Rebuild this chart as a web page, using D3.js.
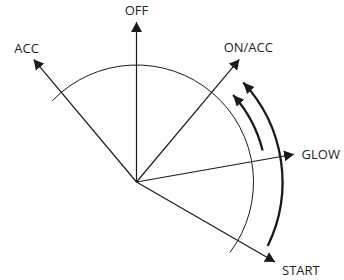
<!DOCTYPE html>
<html>
<head>
<meta charset="utf-8">
<script src="https://cdn.jsdelivr.net/npm/d3@7"></script>
<style>
  html, body { margin: 0; padding: 0; background: #fff; }
  svg { display: block; }
  .label { font-family: "Open Sans", sans-serif; font-size: 13px; fill: #222; }
</style>
</head>
<body>
<div id="chart"></div>
<script>
// Key positions (angle in degrees, clockwise from straight up)
const positions = ["OFF", "ACC", "ON/ACC", "GLOW", "START"];
const positionAngles = [0, -40, 40, 80, 120];
const rayLength = 160;

// Arcs: radius, start angle, end angle
const arcRadii = [117, 130, 146];
const arcStarts = [-46, 76, 116];
const arcEnds = [127, 48, 47];
const arcArrows = [false, true, true];

const width = 344;
const height = 280;
const center = { x: 136.5, y: 182 };

// label placement relative to arrow tip
const labelOffsets = {
  "OFF": { dx: 0, dy: -7, anchor: "middle" },
  "ACC": { dx: -7, dy: -6.5, anchor: "middle" },
  "ON/ACC": { dx: 9, dy: -7, anchor: "middle" },
  "GLOW": { dx: 7.5, dy: 5, anchor: "start" },
  "START": { dx: 7, dy: 12.5, anchor: "start" }
};

const ink = "#1a1a1a";

const svg = d3.select("#chart")
  .append("svg")
  .attr("width", width)
  .attr("height", height);

const defs = svg.append("defs");

defs.append("marker")
  .attr("id", "head")
  .attr("markerUnits", "userSpaceOnUse")
  .attr("viewBox", "0 -6 10 12")
  .attr("refX", 10)
  .attr("refY", 0)
  .attr("markerWidth", 10)
  .attr("markerHeight", 12)
  .attr("orient", "auto")
  .append("path")
  .attr("d", "M0,-5.5L10,0L0,5.5Z")
  .attr("fill", ink);

defs.append("marker")
  .attr("id", "arc-head")
  .attr("markerUnits", "userSpaceOnUse")
  .attr("viewBox", "0 -6 11 12")
  .attr("refX", 11)
  .attr("refY", 0)
  .attr("markerWidth", 11)
  .attr("markerHeight", 12)
  .attr("orient", "auto")
  .append("path")
  .attr("d", "M0,-5L11,0L0,5Z")
  .attr("fill", ink);

// Scales
const rScale = d3.scaleLinear().domain([0, 160]).range([0, 160]);
const aScale = d3.scaleLinear().domain([0, 360]).range([0, 2 * Math.PI]);

// polar to screen, angle clockwise from north
function point(deg, r) {
  const a = aScale(deg);
  return [center.x + rScale(r) * Math.sin(a), center.y - rScale(r) * Math.cos(a)];
}

const g = svg.append("g");

// Arcs
const arcData = arcRadii.map((r, i) => ({ r: r, a0: arcStarts[i], a1: arcEnds[i], arrow: arcArrows[i] }));

g.selectAll(".arc")
  .data(arcData)
  .enter().append("path")
  .attr("class", "arc")
  .attr("d", d => {
    const p = d3.path();
    // d3.path uses angle 0 = east
    p.arc(center.x, center.y, rScale(d.r), aScale(d.a0 - 90), aScale(d.a1 - 90), d.a1 < d.a0);
    return p.toString();
  })
  .attr("fill", "none")
  .attr("stroke", ink)
  .attr("stroke-width", d => d.arrow ? 2.3 : 1)
  .attr("marker-end", d => d.arrow ? "url(#arc-head)" : null);

// Rays
const rays = positions.map((name, i) => ({ name: name, angle: positionAngles[i] }));

g.selectAll(".ray")
  .data(rays)
  .enter().append("line")
  .attr("class", "ray")
  .attr("x1", center.x)
  .attr("y1", center.y)
  .attr("x2", d => point(d.angle, rayLength)[0])
  .attr("y2", d => point(d.angle, rayLength)[1])
  .attr("stroke", ink)
  .attr("stroke-width", 1.2)
  .attr("marker-end", "url(#head)");

// Labels
g.selectAll(".label")
  .data(rays)
  .enter().append("text")
  .attr("class", "label")
  .attr("x", d => point(d.angle, rayLength)[0] + labelOffsets[d.name].dx)
  .attr("y", d => point(d.angle, rayLength)[1] + labelOffsets[d.name].dy)
  .attr("text-anchor", d => labelOffsets[d.name].anchor)
  .text(d => d.name);
</script>
</body>
</html>
